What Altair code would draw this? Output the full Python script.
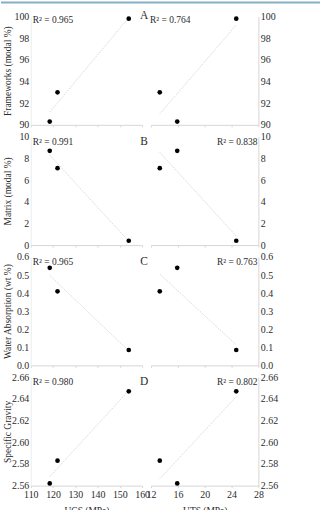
import altair as alt
import pandas as pd

# Three rock samples: strength measurements and petrographic / physical properties
ucs = [118.5, 122.0, 154.0]          # uniaxial compressive strength (MPa)
uts = [15.9, 13.3, 24.7]             # uniaxial tensile strength (MPa)
frameworks = [90.3, 93.0, 99.8]      # modal %
matrix = [8.7, 7.1, 0.4]             # modal %
water_absorption = [0.54, 0.41, 0.085]  # wt %
specific_gravity = [2.562, 2.583, 2.647]

property_fields = ["frameworks", "matrix", "water_absorption", "specific_gravity"]
property_titles = ["Frameworks (modal %)", "Matrix (modal %)",
                   "Water Absorption (wt %)", "Specific Gravity"]
panel_letters = ["A", "B", "C", "D"]
r2_ucs = ["0.965", "0.991", "0.965", "0.980"]
r2_uts = ["0.764", "0.838", "0.763", "0.802"]

y_domains = [[90, 100], [0, 10], [0, 0.6], [2.56, 2.66]]
y_ticks = [[90, 92, 94, 96, 98, 100],
           [0, 2, 4, 6, 8, 10],
           [0, 0.1, 0.2, 0.3, 0.4, 0.5, 0.6],
           [2.56, 2.58, 2.60, 2.62, 2.64, 2.66]]
y_formats = ["d", "d", ".1f", ".2f"]

ucs_ticks = [110, 120, 130, 140, 150, 160]
uts_ticks = [12, 16, 20, 24, 28]

df = pd.DataFrame({
    "UCS": ucs, "UTS": uts,
    "frameworks": frameworks, "matrix": matrix,
    "water_absorption": water_absorption, "specific_gravity": specific_gravity,
})

FONT = "Liberation Serif"
TEXT = "#2b2b2b"
AXIS_GREY = "#d6d6d6"
W_LEFT, W_RIGHT, H = 112, 108, 109


def panel(xfield, xticks, xtitle, row, side, bottom):
    width = W_LEFT if side == "left" else W_RIGHT
    x_axis_kw = dict(values=xticks, labels=bottom, labelFlush=False,
                     tickSize=2, labelPadding=2, titlePadding=6,
                     domainColor=AXIS_GREY, tickColor=AXIS_GREY, grid=False)
    if bottom:
        x_axis_kw["title"] = xtitle
    else:
        x_axis_kw["title"] = None
    y_axis_kw = dict(values=y_ticks[row], format=y_formats[row], orient=side,
                     ticks=False, labelPadding=2, grid=False,
                     domainColor=AXIS_GREY if side == "right" else "#ededed")
    if side == "left":
        y_axis_kw.update(title=property_titles[row], minExtent=16,
                         maxExtent=16, titlePadding=2.5)
    else:
        y_axis_kw["title"] = None

    yfield = property_fields[row]
    base = alt.Chart(df).encode(
        x=alt.X(f"{xfield}:Q",
                scale=alt.Scale(domain=[xticks[0], xticks[-1]], nice=False, zero=False),
                axis=alt.Axis(**x_axis_kw)),
        y=alt.Y(f"{yfield}:Q",
                scale=alt.Scale(domain=y_domains[row], nice=False, zero=False),
                axis=alt.Axis(**y_axis_kw)),
    )
    trend = base.transform_regression(xfield, yfield).mark_line(
        color="#dadada", strokeWidth=1, strokeDash=[1.5, 1])
    points = base.mark_circle(size=22, color="black", opacity=1)

    layers = [trend, points]

    # R² annotation
    r2 = (r2_ucs if side == "left" else r2_uts)[row]
    if side == "left":
        r2_pos = dict(x=alt.value(2), y=alt.value(4 if row == 0 else 5))
        r2_align = "left"
    elif row == 0:
        r2_pos = dict(x=alt.value(-1), y=alt.value(4))
        r2_align = "left"
    else:
        r2_pos = dict(x=alt.value(width - 1), y=alt.value(5))
        r2_align = "right"
    layers.append(
        alt.Chart(pd.DataFrame({"label": [f"R\u00b2 = {r2}"]}))
        .mark_text(font=FONT, fontSize=9.5, color=TEXT, align=r2_align, baseline="middle")
        .encode(text="label:N", **r2_pos)
    )

    if side == "left":
        # panel letter sits between the two columns
        layers.append(
            alt.Chart(pd.DataFrame({"letter": [panel_letters[row]]}))
            .mark_text(font=FONT, fontSize=11.5, color=TEXT, align="center", baseline="middle")
            .encode(text="letter:N", x=alt.value(width + 2),
                    y=alt.value(0 if row == 0 else 5))
        )
        if row == 0:
            # thin frame strip across the top of the figure
            layers.append(
                alt.Chart(pd.DataFrame({"edge": [0]}))
                .mark_rule(color="#86aec6", strokeWidth=2)
                .encode(x=alt.value(-30), x2=alt.value(291), y=alt.value(-14))
            )

    return alt.layer(*layers).properties(width=width, height=H)


panels = []
for r in range(4):
    bottom = r == 3
    panels.append(panel("UCS", ucs_ticks, "UCS (MPa)", r, "left", bottom))
    panels.append(panel("UTS", uts_ticks, "UTS (MPa)", r, "right", bottom))

chart = (
    alt.concat(*panels, columns=2, spacing={"row": 12, "column": 9}, bounds="flush")
    .properties(padding={"left": 0, "top": 0, "right": 0, "bottom": 0})
    .configure_view(stroke=None)
    .configure_axis(labelFont=FONT, titleFont=FONT, labelFontSize=10,
                    titleFontSize=9.5, labelColor=TEXT, titleColor=TEXT,
                    titleFontWeight="normal")
)

chart.save("out.html", embed_options={"renderer": "svg", "actions": False})
